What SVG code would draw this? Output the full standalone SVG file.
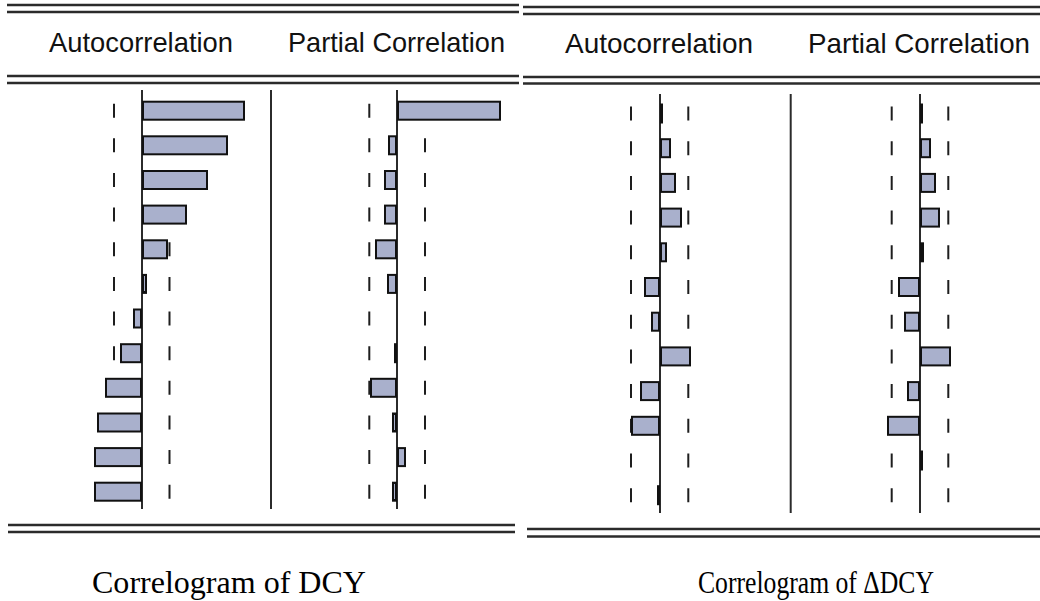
<svg xmlns="http://www.w3.org/2000/svg" width="1040" height="601" viewBox="0 0 1040 601">
  <style>
    .rule { stroke: #2b2b2b; stroke-width: 2.4; fill: none; }
    .axis { stroke: #2b2b2b; stroke-width: 2; fill: none; }
    .dash { stroke: #1e1e1e; stroke-width: 2; fill: none; }
    .bar { fill: #a9b0cc; stroke: #111; stroke-width: 2; }
    .head { font-family: "Liberation Sans", Arial, sans-serif; font-size: 28px; fill: #111; }
    .cap { font-family: "Liberation Serif", "Times New Roman", serif; font-size: 32px; fill: #000; }
  </style>
  <rect width="1040" height="601" fill="#ffffff"/>

  <!-- Left correlogram: DCY -->
  <g id="panel-dcy">
    <g id="dcy-rules">
      <line class="rule" x1="7" y1="5" x2="519" y2="5"/>
      <line class="rule" x1="7" y1="12" x2="519" y2="12"/>
      <line class="rule" x1="7" y1="76" x2="519" y2="76"/>
      <line class="rule" x1="7" y1="83" x2="519" y2="83"/>
      <line class="rule" x1="8" y1="525" x2="515" y2="525"/>
      <line class="rule" x1="8" y1="532" x2="515" y2="532"/>
    </g>
    <text class="head" x="49" y="52" textLength="184" lengthAdjust="spacingAndGlyphs">Autocorrelation</text>
    <text class="head" x="288" y="52" textLength="217" lengthAdjust="spacingAndGlyphs">Partial Correlation</text>
    <line class="axis" x1="271" y1="90" x2="271" y2="509"/>

    <!-- autocorrelation column -->
    <g id="dcy-ac">
      <line class="axis" x1="142" y1="90" x2="142" y2="509"/>
      <g class="dash-col">
        <path class="dash" d="M114 103.7v14M114 138.3v14M114 173v14M114 207.6v14M114 242.3v14M114 276.9v14M114 311.5v14M114 346.2v14M114 380.8v14M114 415.5v14M114 450.1v14M114 484.7v14"/>
        <path class="dash" d="M169.5 103.7v14M169.5 138.3v14M169.5 173v14M169.5 207.6v14M169.5 242.3v14M169.5 276.9v14M169.5 311.5v14M169.5 346.2v14M169.5 380.8v14M169.5 415.5v14M169.5 450.1v14M169.5 484.7v14"/>
      </g>
      <rect class="bar" x="143" y="101.7" width="101" height="18"/>
      <rect class="bar" x="143" y="136.3" width="84" height="18"/>
      <rect class="bar" x="143" y="171" width="64" height="18"/>
      <rect class="bar" x="143" y="205.6" width="43" height="18"/>
      <rect class="bar" x="143" y="240.3" width="24" height="18"/>
      <rect class="bar" x="143" y="274.9" width="3" height="18"/>
      <rect class="bar" x="134" y="309.5" width="7" height="18"/>
      <rect class="bar" x="121" y="344.2" width="20" height="18"/>
      <rect class="bar" x="106" y="378.8" width="35" height="18"/>
      <rect class="bar" x="98" y="413.5" width="43" height="18"/>
      <rect class="bar" x="95" y="448.1" width="46" height="18"/>
      <rect class="bar" x="95" y="482.7" width="46" height="18"/>
    </g>

    <!-- partial correlation column -->
    <g id="dcy-pac">
      <line class="axis" x1="397" y1="90" x2="397" y2="509"/>
      <g class="dash-col">
        <path class="dash" d="M369.3 103.7v14M369.3 138.3v14M369.3 173v14M369.3 207.6v14M369.3 242.3v14M369.3 276.9v14M369.3 311.5v14M369.3 346.2v14M369.3 380.8v14M369.3 415.5v14M369.3 450.1v14M369.3 484.7v14"/>
        <path class="dash" d="M425 103.7v14M425 138.3v14M425 173v14M425 207.6v14M425 242.3v14M425 276.9v14M425 311.5v14M425 346.2v14M425 380.8v14M425 415.5v14M425 450.1v14M425 484.7v14"/>
      </g>
      <rect class="bar" x="398" y="101.7" width="102" height="18"/>
      <rect class="bar" x="389" y="136.3" width="7" height="18"/>
      <rect class="bar" x="385" y="171" width="11" height="18"/>
      <rect class="bar" x="385" y="205.6" width="11" height="18"/>
      <rect class="bar" x="376" y="240.3" width="20" height="18"/>
      <rect class="bar" x="388" y="274.9" width="8" height="18"/>
      <rect class="bar" x="395" y="344.2" width="1" height="18"/>
      <rect class="bar" x="371" y="378.8" width="25" height="18"/>
      <rect class="bar" x="393" y="413.5" width="3" height="18"/>
      <rect class="bar" x="398" y="448.1" width="7" height="18"/>
      <rect class="bar" x="393" y="482.7" width="3" height="18"/>
    </g>
    <text class="cap" x="92" y="593" textLength="274" lengthAdjust="spacingAndGlyphs">Correlogram of DCY</text>
  </g>

  <!-- Right correlogram: first difference of DCY -->
  <g id="panel-ddcy">
    <g id="ddcy-rules">
      <line class="rule" x1="523" y1="7" x2="1040" y2="7"/>
      <line class="rule" x1="523" y1="14" x2="1040" y2="14"/>
      <line class="rule" x1="523" y1="77" x2="1040" y2="77"/>
      <line class="rule" x1="523" y1="83.5" x2="1040" y2="83.5"/>
      <line class="rule" x1="527" y1="529" x2="1040" y2="529"/>
      <line class="rule" x1="527" y1="536.5" x2="1040" y2="536.5"/>
    </g>
    <text class="head" x="565" y="53" textLength="188" lengthAdjust="spacingAndGlyphs">Autocorrelation</text>
    <text class="head" x="808" y="53" textLength="222" lengthAdjust="spacingAndGlyphs">Partial Correlation</text>
    <line class="axis" x1="790.7" y1="94" x2="790.7" y2="513"/>

    <!-- autocorrelation column -->
    <g id="ddcy-ac">
      <line class="axis" x1="660" y1="94" x2="660" y2="513"/>
      <g class="dash-col">
        <path class="dash" d="M631 106.5v14M631 141.2v14M631 175.9v14M631 210.6v14M631 245.3v14M631 280v14M631 314.7v14M631 349.4v14M631 384.1v14M631 418.8v14M631 453.5v14M631 488.2v14"/>
        <path class="dash" d="M688.3 106.5v14M688.3 141.2v14M688.3 175.9v14M688.3 210.6v14M688.3 245.3v14M688.3 280v14M688.3 314.7v14M688.3 349.4v14M688.3 384.1v14M688.3 418.8v14M688.3 453.5v14M688.3 488.2v14"/>
      </g>
      <rect class="bar" x="661" y="104.5" width="1" height="18"/>
      <rect class="bar" x="661" y="139.2" width="9" height="18"/>
      <rect class="bar" x="661" y="173.9" width="14" height="18"/>
      <rect class="bar" x="661" y="208.6" width="20" height="18"/>
      <rect class="bar" x="661" y="243.3" width="5" height="18"/>
      <rect class="bar" x="645" y="278" width="14" height="18"/>
      <rect class="bar" x="652" y="312.7" width="7" height="18"/>
      <rect class="bar" x="661" y="347.4" width="29" height="18"/>
      <rect class="bar" x="641" y="382.1" width="18" height="18"/>
      <rect class="bar" x="632" y="416.8" width="27" height="18"/>
      <rect class="bar" x="658" y="486.2" width="1" height="18"/>
    </g>

    <!-- partial correlation column -->
    <g id="ddcy-pac">
      <line class="axis" x1="920" y1="94" x2="920" y2="513"/>
      <g class="dash-col">
        <path class="dash" d="M891.7 106.5v14M891.7 141.2v14M891.7 175.9v14M891.7 210.6v14M891.7 245.3v14M891.7 280v14M891.7 314.7v14M891.7 349.4v14M891.7 384.1v14M891.7 418.8v14M891.7 453.5v14M891.7 488.2v14"/>
        <path class="dash" d="M948.3 106.5v14M948.3 141.2v14M948.3 175.9v14M948.3 210.6v14M948.3 245.3v14M948.3 280v14M948.3 314.7v14M948.3 349.4v14M948.3 384.1v14M948.3 418.8v14M948.3 453.5v14M948.3 488.2v14"/>
      </g>
      <rect class="bar" x="921" y="104.5" width="1" height="18"/>
      <rect class="bar" x="921" y="139.2" width="9" height="18"/>
      <rect class="bar" x="921" y="173.9" width="14" height="18"/>
      <rect class="bar" x="921" y="208.6" width="18" height="18"/>
      <rect class="bar" x="921" y="243.3" width="2" height="18"/>
      <rect class="bar" x="899" y="278" width="20" height="18"/>
      <rect class="bar" x="905" y="312.7" width="14" height="18"/>
      <rect class="bar" x="921" y="347.4" width="29" height="18"/>
      <rect class="bar" x="908" y="382.1" width="11" height="18"/>
      <rect class="bar" x="888" y="416.8" width="31" height="18"/>
      <rect class="bar" x="921" y="451.5" width="1" height="18"/>
    </g>
    <text class="cap" x="698" y="593" textLength="236" lengthAdjust="spacingAndGlyphs">Correlogram of ΔDCY</text>
  </g>
</svg>
